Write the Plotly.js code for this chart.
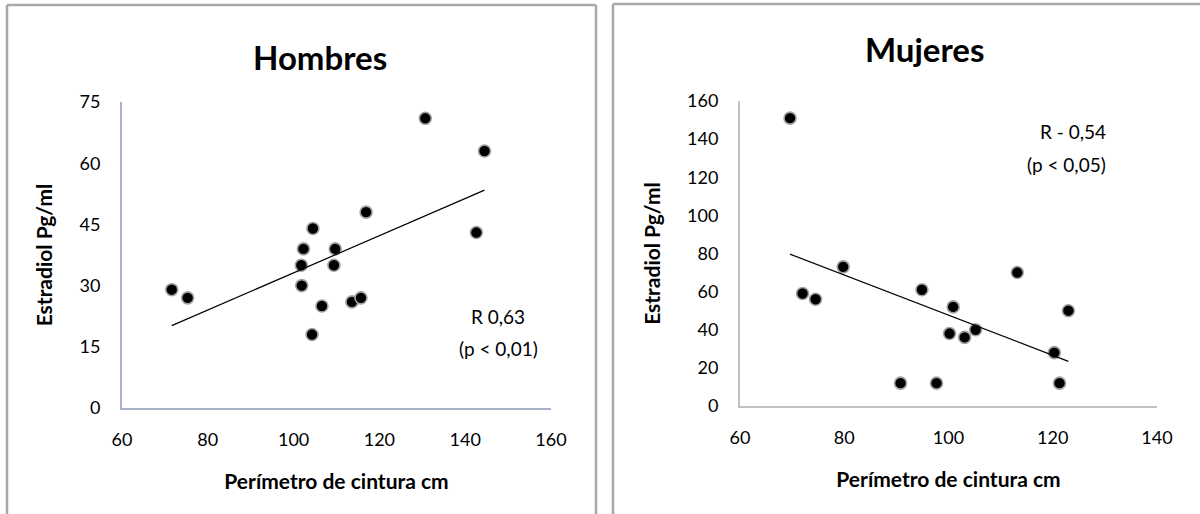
<!DOCTYPE html>
<html>
<head>
<meta charset="utf-8">
<script src="https://cdn.plot.ly/plotly-3.0.1.min.js"></script>
<style>
  html, body { margin: 0; padding: 0; background: #ffffff; }
  #chart { width: 1200px; height: 514px; }
</style>
</head>
<body>
<div id="chart"></div>
<script>
// ---- Data ----
const panelTitles = ["Hombres", "Mujeres"];
const xTitle = "Perímetro de cintura cm";
const yTitle = "Estradiol Pg/ml";

const menX = [71.6, 75.3, 104.5, 102.3, 109.7, 101.8, 109.4, 101.9, 106.6, 113.6, 115.7, 104.3, 116.9, 130.7, 144.5, 142.6];
const menY = [29, 27, 44, 39, 39, 35, 35, 30, 25, 26, 27, 18, 48, 71, 63, 43];

const womenX = [69.6, 72.0, 74.5, 79.8, 94.9, 100.9, 100.2, 103.1, 105.2, 113.2, 123.0, 120.3, 121.3, 90.8, 97.7];
const womenY = [151, 59, 56, 73, 61, 52, 38, 36, 40, 70, 50, 28, 12, 12, 12];

const menStats = ["R 0,63", "(p < 0,01)"];
const womenStats = ["R - 0,54", "(p < 0,05)"];

const menXTicks = [60, 80, 100, 120, 140, 160];
const menYTicks = [0, 15, 30, 45, 60, 75];
const womenXTicks = [60, 80, 100, 120, 140];
const womenYTicks = [0, 20, 40, 60, 80, 100, 120, 140, 160];

// ---- Least-squares trend line (as the spreadsheet's linear trendline) ----
function trend(xs, ys) {
  const n = xs.length;
  const mx = xs.reduce((a, b) => a + b, 0) / n;
  const my = ys.reduce((a, b) => a + b, 0) / n;
  let sxy = 0, sxx = 0;
  for (let i = 0; i < n; i++) { sxy += (xs[i] - mx) * (ys[i] - my); sxx += (xs[i] - mx) ** 2; }
  const b = sxy / sxx, a = my - b * mx;
  const x0 = Math.min(...xs), x1 = Math.max(...xs);
  return { x: [x0, x1], y: [a + b * x0, a + b * x1] };
}
const menTrend = trend(menX, menY);
const womenTrend = trend(womenX, womenY);

const FONT = "Lato, 'Open Sans', sans-serif";
const W = 1200, H = 514;
const px = v => v / W;
const py = v => 1 - v / H;

const marker = { size: 12, color: "#000000", line: { color: "#a3a3a3", width: 1.6 } };

const traces = [
  { type: "scatter", mode: "markers", x: menX, y: menY, xaxis: "x", yaxis: "y", marker: marker, hoverinfo: "x+y", showlegend: false },
  { type: "scatter", mode: "lines", x: menTrend.x, y: menTrend.y, xaxis: "x", yaxis: "y", line: { color: "#000000", width: 1.2 }, hoverinfo: "skip", showlegend: false },
  { type: "scatter", mode: "markers", x: womenX, y: womenY, xaxis: "x2", yaxis: "y2", marker: marker, hoverinfo: "x+y", showlegend: false },
  { type: "scatter", mode: "lines", x: womenTrend.x, y: womenTrend.y, xaxis: "x2", yaxis: "y2", line: { color: "#000000", width: 1.2 }, hoverinfo: "skip", showlegend: false }
];

const tickFont = { family: FONT, size: 18, color: "#000000" };
const axTitleFont = { family: FONT, size: 21, color: "#000000", weight: "bold" };

function xAxis(domain, range, ticks, lineColor, anchor) {
  return {
    domain: domain, range: range, tickvals: ticks, ticktext: ticks.map(String),
    showgrid: false, zeroline: false, showline: true, linecolor: lineColor, linewidth: 2,
    ticks: "outside", ticklen: 14, tickcolor: "rgba(0,0,0,0)",
    tickfont: tickFont, anchor: anchor, fixedrange: true,
    title: { text: xTitle, font: axTitleFont, standoff: 26 }
  };
}
function yAxis(domain, range, ticks, lineColor, anchor) {
  return {
    domain: domain, range: range, tickvals: ticks, ticktext: ticks.map(String),
    showgrid: false, zeroline: false, showline: true, linecolor: lineColor, linewidth: 2,
    ticks: "outside", ticklen: 16, tickcolor: "rgba(0,0,0,0)",
    tickfont: tickFont, anchor: anchor, fixedrange: true,
    title: { text: yTitle, font: axTitleFont, standoff: 21 }
  };
}

const borderColor = "#a9a9a9";
const line = (x0, y0, x1, y1) => ({ type: "line", xref: "paper", yref: "paper", x0: px(x0), y0: py(y0), x1: px(x1), y1: py(y1), line: { color: borderColor, width: 2.5 } });

const annFont = { family: FONT, size: 19, color: "#000000" };

const layout = {
  width: W, height: H,
  margin: { l: 0, r: 0, t: 0, b: 0 },
  paper_bgcolor: "#ffffff", plot_bgcolor: "rgba(0,0,0,0)",
  showlegend: false,
  xaxis: xAxis([px(122), px(551)], [60, 160], menXTicks, "#a7b2c6", "y"),
  yaxis: yAxis([py(408), py(102)], [0, 75], menYTicks, "#a7b2c6", "x"),
  xaxis2: xAxis([px(740), px(1157)], [60, 140], womenXTicks, "#c0c0c0", "y2"),
  yaxis2: yAxis([py(406), py(101)], [0, 160], womenYTicks, "#c0c0c0", "x2"),
  shapes: [
    line(7, 5, 7, 520), line(7, 5, 596, 5), line(596, 5, 596, 520),
    line(613, 4, 613, 520), line(613, 4, 1205, 4)
  ],
  annotations: [
    { xref: "paper", yref: "paper", x: px(320), y: py(57), text: "<b>" + panelTitles[0] + "</b>", showarrow: false, font: { family: FONT, size: 33, color: "#000000" }, xanchor: "center", yanchor: "middle" },
    { xref: "paper", yref: "paper", x: px(924), y: py(49), text: "<b>" + panelTitles[1] + "</b>", showarrow: false, font: { family: FONT, size: 33, color: "#000000" }, xanchor: "center", yanchor: "middle" },
    { xref: "paper", yref: "paper", x: px(498), y: py(316), text: menStats[0], showarrow: false, font: annFont, xanchor: "center", yanchor: "middle" },
    { xref: "paper", yref: "paper", x: px(498), y: py(348), text: menStats[1], showarrow: false, font: annFont, xanchor: "center", yanchor: "middle" },
    { xref: "paper", yref: "paper", x: px(1073), y: py(131), text: womenStats[0], showarrow: false, font: annFont, xanchor: "center", yanchor: "middle" },
    { xref: "paper", yref: "paper", x: px(1066), y: py(164), text: womenStats[1], showarrow: false, font: annFont, xanchor: "center", yanchor: "middle" }
  ]
};

Plotly.newPlot("chart", traces, layout, { displayModeBar: false, staticPlot: true });
</script>
</body>
</html>
